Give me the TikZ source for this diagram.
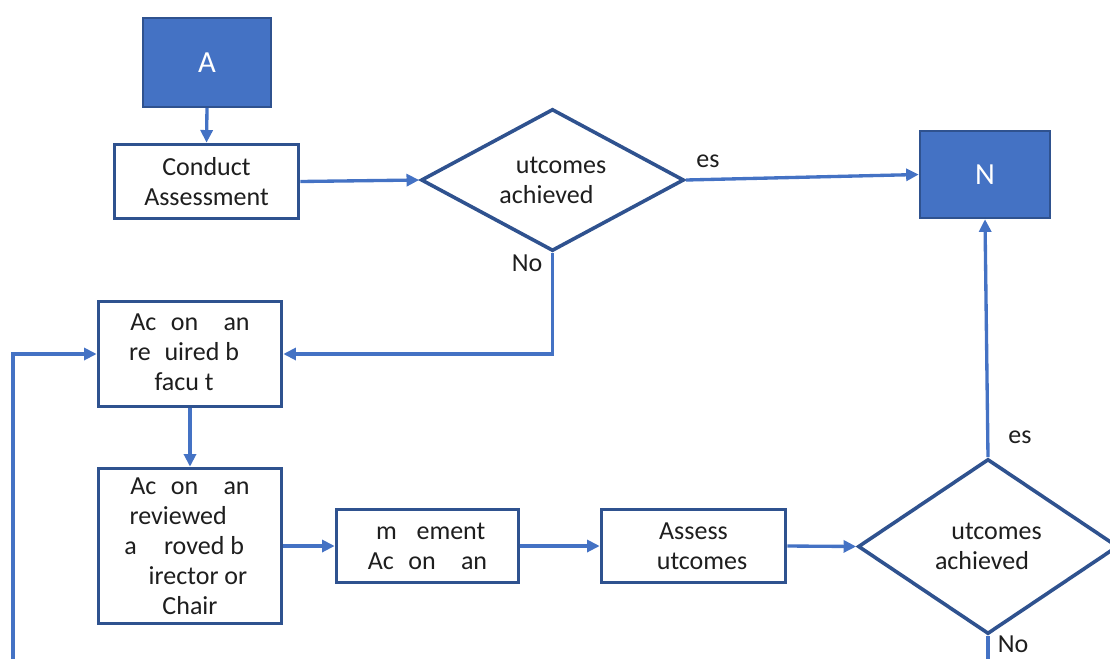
\documentclass[tikz,border=0pt]{standalone}
\usepackage{fontspec}
\setmainfont{Carlito}
\usetikzlibrary{arrows.meta,shapes.geometric}
\definecolor{conn}{HTML}{4472C4}
\definecolor{bord}{HTML}{2F528F}
\definecolor{txt}{HTML}{1E1E1E}
\begin{document}
\begin{tikzpicture}[x=0.75pt,y=-0.75pt,
  txtfont/.style={font=\fontsize{19.5pt}{22.5pt}\selectfont,text=txt},
  box/.style={draw=bord,line width=2.7pt,fill=white,align=center,inner sep=0pt,txtfont},
  term/.style={draw=bord,line width=1.8pt,fill=conn,inner sep=0pt,text=white,font=\fontsize{23pt}{26pt}\selectfont},
  dec/.style={draw=bord,line width=2.7pt,fill=white,shape=diamond,aspect=2,inner sep=0pt,align=center,txtfont},
  conn/.style={draw=conn,line width=2.5pt,-{Triangle[length=9.5pt,width=9pt]}},
  connplain/.style={draw=conn,line width=2.5pt},
  lbl/.style={txtfont,inner sep=0pt}
]
\useasboundingbox (0,0) rectangle (1110,658);

\node[term,minimum width=96pt,minimum height=66.75pt] (start) at (207,62.5) {A};
\node[box,minimum width=138pt,minimum height=55.5pt] (conduct) at (206.5,181.5) {Conduct\\Assessment};
\node[dec,minimum width=197.25pt,minimum height=106.5pt] (d1) at (552.5,180) {\phantom{O}utcomes\\achieved\phantom{?}};
\node[term,minimum width=97.5pt,minimum height=65.25pt] (end) at (985,174.5) {N};

\node[box,minimum width=137.25pt,minimum height=78.75pt] (plan) at (190,354)
  {Ac\phantom{ti}on \phantom{Pl}an\\re\phantom{q}uired b\phantom{y}\\facu\phantom{l}t\phantom{y}};
\node[box,minimum width=137.25pt,minimum height=116.25pt] (review) at (190,546)
  {Ac\phantom{ti}on \phantom{Pl}an\\reviewed\phantom{\ \&}\\a\phantom{pp}roved b\phantom{y}\\\phantom{D}irector or\\Chair};
\node[box,minimum width=136.5pt,minimum height=54.75pt] (impl) at (427.5,546)
  {\phantom{I}m\phantom{pl}ement\\Ac\phantom{ti}on \phantom{Pl}an};
\node[box,minimum width=138pt,minimum height=54.75pt] (assess) at (693.5,546)
  {Assess\\\phantom{O}utcomes};
\node[dec,minimum width=195pt,minimum height=131.25pt] (d2) at (988,546.5) {\phantom{O}utcomes\\achieved\phantom{?}};

\coordinate (loopstart) at (13,662);
\coordinate (d2end) at (988,662);

\draw[conn] (start.south) -- (conduct.north);
\draw[conn] (conduct.east) -- (d1.west);
\draw[conn] (d1.east) -- (end.west);
\draw[conn] (d1.south) |- (plan.east);
\draw[conn] (plan.south) -- (review.north);
\draw[conn] (review.east) -- (impl.west);
\draw[conn] (impl.east) -- (assess.west);
\draw[conn] (assess.east) -- (d2.west);
\draw[conn] (d2.north) -- (end.south);
\draw[connplain] (d2.south) -- (d2end);
\draw[conn] (loopstart) |- (plan.west);

\node[lbl] (yes1) at (708,161) {es};
\node[lbl] (no1) at (527,263) {No};
\node[lbl] (yes2) at (1020,437) {es};
\node[lbl] (no2) at (1013,644) {No};
\end{tikzpicture}
\end{document}
